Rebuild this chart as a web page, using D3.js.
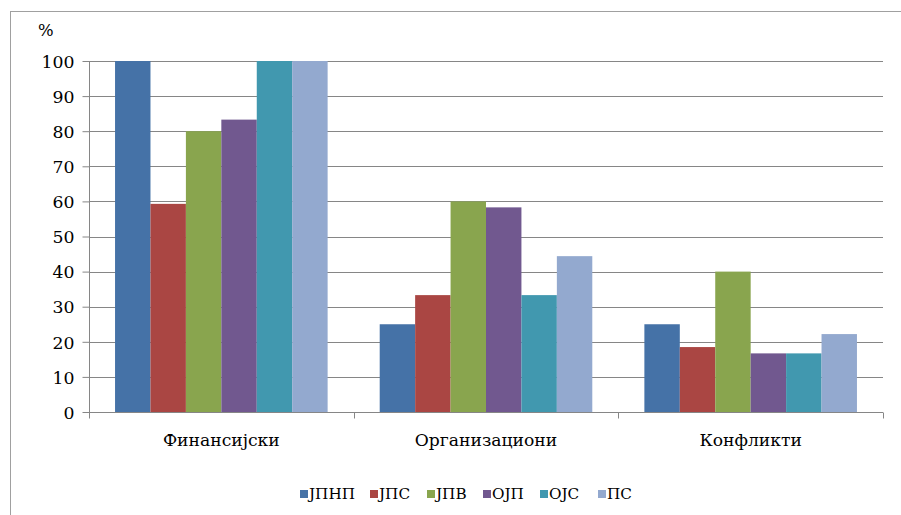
<!DOCTYPE html>
<html>
<head>
<meta charset="utf-8">
<script src="https://cdn.jsdelivr.net/npm/d3@7"></script>
<style>
body{margin:0;background:#fff;}
svg{display:block;}
</style>
</head>
<body>
<svg id="c" width="901" height="515"></svg>
<script>
const categories = ["Финансијски", "Организациони", "Конфликти"];
const seriesNames = ["ЈПНП", "ЈПС", "ЈПВ", "ОЈП", "ОЈС", "ПС"];
const seriesColors = ["#4572a7", "#aa4643", "#89a54e", "#71588f", "#4198af", "#93a9cf"];
const valuesJPNP = [100, 25, 25];
const valuesJPS = [59.3, 33.3, 18.5];
const valuesJPV = [80, 60, 40];
const valuesOJP = [83.3, 58.3, 16.7];
const valuesOJS = [100, 33.3, 16.7];
const valuesPS = [100, 44.4, 22.2];
const yTicks = [0, 10, 20, 30, 40, 50, 60, 70, 80, 90, 100];
const allValues = [valuesJPNP, valuesJPS, valuesJPV, valuesOJP, valuesOJS, valuesPS];

(function () {
const ctx = document.createElement("canvas").getContext("2d");
function w(font, size, s) { ctx.font = `${size}px ${font}`; return ctx.measureText(s).width; }
const probe = "Финансијски 100 ЈПНП mmmlliiWW";
const refs = ["monospace", "'Liberation Sans'", "'DejaVu Sans'", "sans-serif", "Roboto", "'Noto Sans'"].map(f => w(f, 40, probe));
const candidates = ["'DejaVu Serif'", "'Liberation Serif'", "'Noto Serif'", "'Times New Roman'", "serif"];
let FONT = "'Liberation Sans', Arial, sans-serif";
for (const c of candidates) {
  const cw = w(c + ", monospace", 40, probe);
  if (refs.every(r => Math.abs(cw - r) > 0.5)) { FONT = c + ", serif"; break; }
}
function fit(s, target) { return Math.min(22, Math.max(10, 40 * target / w(FONT, 40, s))); }
const catSize = fit("Финансијски", 117);
const tickSize = fit("100", 33);
const legSize = fit("ЈПНП", 46);

const svg = d3.select("#c");
svg.append("rect").attr("x", 10.5).attr("y", 11.5).attr("width", 1000).attr("height", 1000)
  .attr("fill", "#fff").attr("stroke", "#a0a0a0").attr("stroke-width", 1);

const pLeft = 89, pRight = 883, pTop = 61, pBottom = 412;
const x0 = d3.scaleBand().domain(categories).range([pLeft, pRight]).paddingInner(0).paddingOuter(0);
const x1 = d3.scaleBand().domain(seriesNames).range([0, x0.bandwidth()]).paddingOuter(0.735).paddingInner(0);
const y = d3.scaleLinear().domain([0, 100]).range([pBottom, pTop]);

svg.append("g").selectAll("line").data(yTicks.filter(d => d > 0)).join("line")
  .attr("x1", pLeft).attr("x2", pRight)
  .attr("y1", d => Math.round(y(d)) + 0.5).attr("y2", d => Math.round(y(d)) + 0.5)
  .attr("stroke", "#868686").attr("stroke-width", 1);

const g = svg.append("g");
categories.forEach((cat, ci) => {
  seriesNames.forEach((s, si) => {
    const v = allValues[si][ci];
    g.append("rect")
      .attr("x", x0(cat) + x1(s))
      .attr("y", y(v))
      .attr("width", x1.bandwidth())
      .attr("height", y(0) - y(v))
      .attr("fill", seriesColors[si]);
  });
});

const yAxis = d3.axisLeft(y).tickValues(yTicks).tickSize(7).tickPadding(8).tickFormat(d3.format("d"));
const ya = svg.append("g").attr("transform", `translate(${pLeft + 0.5},0)`).call(yAxis);
ya.attr("font-family", FONT).attr("font-size", tickSize);
ya.select(".domain").attr("stroke", "#868686").attr("d", `M0,${pTop}V${pBottom}`);
ya.selectAll(".tick line").attr("stroke", "#868686");
ya.selectAll(".tick text").attr("fill", "#000").attr("dy", "0.36em");

const xa = svg.append("g").attr("transform", `translate(0,${pBottom + 0.5})`);
xa.append("line").attr("x1", pLeft).attr("x2", pRight).attr("stroke", "#868686");
const bounds = categories.map(c => x0(c)).concat([x0(categories[categories.length - 1]) + x0.bandwidth()]);
xa.selectAll(".xt").data(bounds).join("line").attr("class", "xt")
  .attr("x1", d => Math.round(d) + 0.5).attr("x2", d => Math.round(d) + 0.5)
  .attr("y1", 0).attr("y2", 6).attr("stroke", "#868686");
xa.selectAll(".xl").data(categories).join("text").attr("class", "xl")
  .attr("x", d => x0(d) + x0.bandwidth() / 2).attr("y", 33)
  .attr("text-anchor", "middle").attr("font-family", FONT).attr("font-size", catSize).text(d => d);

svg.append("text").attr("x", 38).attr("y", 36).attr("font-family", FONT).attr("font-size", tickSize * 0.95).text("%");

const legendX = [300, 370, 427, 483, 540, 598];
const lg = svg.append("g");
seriesNames.forEach((s, i) => {
  lg.append("rect").attr("x", legendX[i]).attr("y", 490).attr("width", 8).attr("height", 8).attr("fill", seriesColors[i]);
  lg.append("text").attr("x", legendX[i] + 9).attr("y", 499).attr("font-family", FONT).attr("font-size", legSize).text(s);
});
})();
</script>
</body>
</html>
